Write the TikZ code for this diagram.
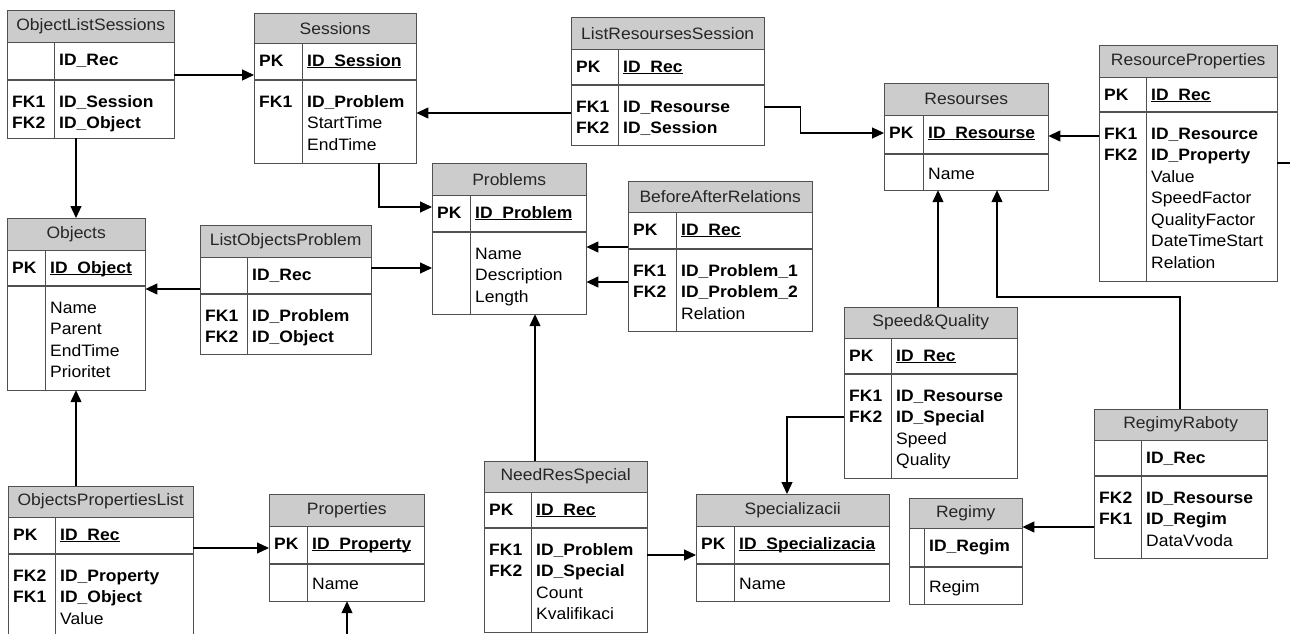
\documentclass[tikz,border=0pt]{standalone}
\usepackage{fontspec}
\setmainfont{Liberation Sans}[FakeStretch=1.06]
\usetikzlibrary{positioning,arrows.meta}
\definecolor{boxline}{HTML}{505050}
\definecolor{boxhead}{HTML}{CCCCCC}
\newcommand\pkf[1]{\underline{\smash{\textbf{#1}}}}

\begin{document}
\begin{tikzpicture}[x=1pt,y=-1pt,
  ttl/.style={draw=boxline,fill=boxhead,anchor=north west,inner sep=0pt,text=black!85,font=\fontsize{16.5}{21.5}\selectfont},
  sec/.style={draw=boxline,fill=white,inner sep=0pt},
  fld/.style={anchor=north west,inner sep=0pt,align=left,font=\fontsize{16.5}{21.5}\selectfont},
  conn/.style={line width=1.2pt,-{Triangle[length=12pt,width=11pt]}}]
\fill[white] (0,0) rectangle (1290,634);
\useasboundingbox (0,0) rectangle (1290,634);
\clip (0,0) rectangle (1290,634);

% ObjectListSessions
\node[ttl, minimum width=167pt, minimum height=32pt] (ols) at (7,10) {ObjectListSessions};
\node[sec, minimum width=167pt, minimum height=37pt, below=0pt of ols] (ols-pk) {};
\node[sec, minimum width=167pt, minimum height=58pt, below=0pt of ols-pk] (ols-at) {};
\draw[boxline] ([xshift=47pt]ols-pk.north west) -- ([xshift=47pt]ols-at.south west);
\node[fld] at ([shift={(52,7.5)}]ols-pk.north west) {\strut\textbf{ID\_Rec}};
\node[fld] at ([shift={(5,12)}]ols-at.north west) {\strut\textbf{FK1}\\\textbf{FK2}};
\node[fld] at ([shift={(52,12)}]ols-at.north west) {\strut\textbf{ID\_Session}\\\textbf{ID\_Object}};

% Sessions
\node[ttl, minimum width=162pt, minimum height=30pt] (ses) at (254,13) {Sessions};
\node[sec, minimum width=162pt, minimum height=36pt, below=0pt of ses] (ses-pk) {};
\node[sec, minimum width=162pt, minimum height=83pt, below=0pt of ses-pk] (ses-at) {};
\draw[boxline] ([xshift=48pt]ses-pk.north west) -- ([xshift=48pt]ses-at.south west);
\node[fld] at ([shift={(5,7.5)}]ses-pk.north west) {\strut\textbf{PK}};
\node[fld] at ([shift={(53,7.5)}]ses-pk.north west) {\strut\pkf{ID\_Session}};
\node[fld] at ([shift={(5,12)}]ses-at.north west) {\strut\textbf{FK1}};
\node[fld] at ([shift={(53,12)}]ses-at.north west) {\strut\textbf{ID\_Problem}\\StartTime\\EndTime};

% ListResoursesSession
\node[ttl, minimum width=193pt, minimum height=32pt] (lrs) at (571,17) {ListResoursesSession};
\node[sec, minimum width=193pt, minimum height=35pt, below=0pt of lrs] (lrs-pk) {};
\node[sec, minimum width=193pt, minimum height=60pt, below=0pt of lrs-pk] (lrs-at) {};
\draw[boxline] ([xshift=47pt]lrs-pk.north west) -- ([xshift=47pt]lrs-at.south west);
\node[fld] at ([shift={(5,7.5)}]lrs-pk.north west) {\strut\textbf{PK}};
\node[fld] at ([shift={(52,7.5)}]lrs-pk.north west) {\strut\pkf{ID\_Rec}};
\node[fld] at ([shift={(5,12)}]lrs-at.north west) {\strut\textbf{FK1}\\\textbf{FK2}};
\node[fld] at ([shift={(52,12)}]lrs-at.north west) {\strut\textbf{ID\_Resourse}\\\textbf{ID\_Session}};

% Resourses
\node[ttl, minimum width=164pt, minimum height=32pt] (res) at (884,83) {Resourses};
\node[sec, minimum width=164pt, minimum height=38pt, below=0pt of res] (res-pk) {};
\node[sec, minimum width=164pt, minimum height=36pt, below=0pt of res-pk] (res-at) {};
\draw[boxline] ([xshift=39pt]res-pk.north west) -- ([xshift=39pt]res-at.south west);
\node[fld] at ([shift={(5,7.5)}]res-pk.north west) {\strut\textbf{PK}};
\node[fld] at ([shift={(44,7.5)}]res-pk.north west) {\strut\pkf{ID\_Resourse}};
\node[fld] at ([shift={(44,10)}]res-at.north west) {\strut Name};

% ResourceProperties
\node[ttl, minimum width=178pt, minimum height=32pt] (rpr) at (1099,45) {ResourceProperties};
\node[sec, minimum width=178pt, minimum height=34pt, below=0pt of rpr] (rpr-pk) {};
\node[sec, minimum width=178pt, minimum height=169pt, below=0pt of rpr-pk] (rpr-at) {};
\draw[boxline] ([xshift=47pt]rpr-pk.north west) -- ([xshift=47pt]rpr-at.south west);
\node[fld] at ([shift={(5,7.5)}]rpr-pk.north west) {\strut\textbf{PK}};
\node[fld] at ([shift={(52,7.5)}]rpr-pk.north west) {\strut\pkf{ID\_Rec}};
\node[fld] at ([shift={(5,12)}]rpr-at.north west) {\strut\textbf{FK1}\\\textbf{FK2}};
\node[fld] at ([shift={(52,12)}]rpr-at.north west) {\strut\textbf{ID\_Resource}\\\textbf{ID\_Property}\\Value\\SpeedFactor\\QualityFactor\\DateTimeStart\\Relation};

% Objects
\node[ttl, minimum width=138pt, minimum height=32pt] (obj) at (7,218) {Objects};
\node[sec, minimum width=138pt, minimum height=35pt, below=0pt of obj] (obj-pk) {};
\node[sec, minimum width=138pt, minimum height=104pt, below=0pt of obj-pk] (obj-at) {};
\draw[boxline] ([xshift=38pt]obj-pk.north west) -- ([xshift=38pt]obj-at.south west);
\node[fld] at ([shift={(5,7.5)}]obj-pk.north west) {\strut\textbf{PK}};
\node[fld] at ([shift={(43,7.5)}]obj-pk.north west) {\strut\pkf{ID\_Object}};
\node[fld] at ([shift={(43,12)}]obj-at.north west) {\strut Name\\Parent\\EndTime\\Prioritet};

% ListObjectsProblem
\node[ttl, minimum width=171pt, minimum height=32pt] (lop) at (200,225) {ListObjectsProblem};
\node[sec, minimum width=171pt, minimum height=36pt, below=0pt of lop] (lop-pk) {};
\node[sec, minimum width=171pt, minimum height=60pt, below=0pt of lop-pk] (lop-at) {};
\draw[boxline] ([xshift=47pt]lop-pk.north west) -- ([xshift=47pt]lop-at.south west);
\node[fld] at ([shift={(52,7.5)}]lop-pk.north west) {\strut\textbf{ID\_Rec}};
\node[fld] at ([shift={(5,12)}]lop-at.north west) {\strut\textbf{FK1}\\\textbf{FK2}};
\node[fld] at ([shift={(52,12)}]lop-at.north west) {\strut\textbf{ID\_Problem}\\\textbf{ID\_Object}};

% Problems
\node[ttl, minimum width=154pt, minimum height=32pt] (prb) at (432,163) {Problems};
\node[sec, minimum width=154pt, minimum height=36pt, below=0pt of prb] (prb-pk) {};
\node[sec, minimum width=154pt, minimum height=82pt, below=0pt of prb-pk] (prb-at) {};
\draw[boxline] ([xshift=38pt]prb-pk.north west) -- ([xshift=38pt]prb-at.south west);
\node[fld] at ([shift={(5,7.5)}]prb-pk.north west) {\strut\textbf{PK}};
\node[fld] at ([shift={(43,7.5)}]prb-pk.north west) {\strut\pkf{ID\_Problem}};
\node[fld] at ([shift={(43,12)}]prb-at.north west) {\strut Name\\Description\\Length};

% BeforeAfterRelations
\node[ttl, minimum width=184pt, minimum height=31pt] (bar) at (628,181) {BeforeAfterRelations};
\node[sec, minimum width=184pt, minimum height=36pt, below=0pt of bar] (bar-pk) {};
\node[sec, minimum width=184pt, minimum height=82pt, below=0pt of bar-pk] (bar-at) {};
\draw[boxline] ([xshift=48pt]bar-pk.north west) -- ([xshift=48pt]bar-at.south west);
\node[fld] at ([shift={(5,7.5)}]bar-pk.north west) {\strut\textbf{PK}};
\node[fld] at ([shift={(53,7.5)}]bar-pk.north west) {\strut\pkf{ID\_Rec}};
\node[fld] at ([shift={(5,12)}]bar-at.north west) {\strut\textbf{FK1}\\\textbf{FK2}};
\node[fld] at ([shift={(53,12)}]bar-at.north west) {\strut\textbf{ID\_Problem\_1}\\\textbf{ID\_Problem\_2}\\Relation};

% Speed&Quality
\node[ttl, minimum width=173pt, minimum height=31pt] (sq) at (844,307) {Speed\&Quality};
\node[sec, minimum width=173pt, minimum height=35pt, below=0pt of sq] (sq-pk) {};
\node[sec, minimum width=173pt, minimum height=104pt, below=0pt of sq-pk] (sq-at) {};
\draw[boxline] ([xshift=47pt]sq-pk.north west) -- ([xshift=47pt]sq-at.south west);
\node[fld] at ([shift={(5,7.5)}]sq-pk.north west) {\strut\textbf{PK}};
\node[fld] at ([shift={(52,7.5)}]sq-pk.north west) {\strut\pkf{ID\_Rec}};
\node[fld] at ([shift={(5,12)}]sq-at.north west) {\strut\textbf{FK1}\\\textbf{FK2}};
\node[fld] at ([shift={(52,12)}]sq-at.north west) {\strut\textbf{ID\_Resourse}\\\textbf{ID\_Special}\\Speed\\Quality};

% RegimyRaboty
\node[ttl, minimum width=173pt, minimum height=31pt] (rr) at (1094,409) {RegimyRaboty};
\node[sec, minimum width=173pt, minimum height=35pt, below=0pt of rr] (rr-pk) {};
\node[sec, minimum width=173pt, minimum height=82pt, below=0pt of rr-pk] (rr-at) {};
\draw[boxline] ([xshift=47pt]rr-pk.north west) -- ([xshift=47pt]rr-at.south west);
\node[fld] at ([shift={(52,7.5)}]rr-pk.north west) {\strut\textbf{ID\_Rec}};
\node[fld] at ([shift={(5,12)}]rr-at.north west) {\strut\textbf{FK2}\\\textbf{FK1}};
\node[fld] at ([shift={(52,12)}]rr-at.north west) {\strut\textbf{ID\_Resourse}\\\textbf{ID\_Regim}\\DataVvoda};

% NeedResSpecial
\node[ttl, minimum width=163pt, minimum height=31pt] (nrs) at (484,461) {NeedResSpecial};
\node[sec, minimum width=163pt, minimum height=35pt, below=0pt of nrs] (nrs-pk) {};
\node[sec, minimum width=163pt, minimum height=104pt, below=0pt of nrs-pk] (nrs-at) {};
\draw[boxline] ([xshift=47pt]nrs-pk.north west) -- ([xshift=47pt]nrs-at.south west);
\node[fld] at ([shift={(5,7.5)}]nrs-pk.north west) {\strut\textbf{PK}};
\node[fld] at ([shift={(52,7.5)}]nrs-pk.north west) {\strut\pkf{ID\_Rec}};
\node[fld] at ([shift={(5,12)}]nrs-at.north west) {\strut\textbf{FK1}\\\textbf{FK2}};
\node[fld] at ([shift={(52,12)}]nrs-at.north west) {\strut\textbf{ID\_Problem}\\\textbf{ID\_Special}\\Count\\Kvalifikaci};

% Specializacii
\node[ttl, minimum width=193pt, minimum height=32pt] (spc) at (696,494) {Specializacii};
\node[sec, minimum width=193pt, minimum height=37pt, below=0pt of spc] (spc-pk) {};
\node[sec, minimum width=193pt, minimum height=37pt, below=0pt of spc-pk] (spc-at) {};
\draw[boxline] ([xshift=38pt]spc-pk.north west) -- ([xshift=38pt]spc-at.south west);
\node[fld] at ([shift={(5,7.5)}]spc-pk.north west) {\strut\textbf{PK}};
\node[fld] at ([shift={(43,7.5)}]spc-pk.north west) {\strut\pkf{ID\_Specializacia}};
\node[fld] at ([shift={(43,10)}]spc-at.north west) {\strut Name};

% Regimy
\node[ttl, minimum width=113pt, minimum height=30pt] (rgm) at (909,498) {Regimy};
\node[sec, minimum width=113pt, minimum height=38pt, below=0pt of rgm] (rgm-pk) {};
\node[sec, minimum width=113pt, minimum height=37pt, below=0pt of rgm-pk] (rgm-at) {};
\draw[boxline] ([xshift=15pt]rgm-pk.north west) -- ([xshift=15pt]rgm-at.south west);
\node[fld] at ([shift={(20,7.5)}]rgm-pk.north west) {\strut\textbf{ID\_Regim}};
\node[fld] at ([shift={(20,10)}]rgm-at.north west) {\strut Regim};

% ObjectsPropertiesList
\node[ttl, minimum width=185pt, minimum height=31pt] (opl) at (8,486) {ObjectsPropertiesList};
\node[sec, minimum width=185pt, minimum height=36pt, below=0pt of opl] (opl-pk) {};
\node[sec, minimum width=185pt, minimum height=120pt, below=0pt of opl-pk] (opl-at) {};
\draw[boxline] ([xshift=47pt]opl-pk.north west) -- ([xshift=47pt]opl-at.south west);
\node[fld] at ([shift={(5,7.5)}]opl-pk.north west) {\strut\textbf{PK}};
\node[fld] at ([shift={(52,7.5)}]opl-pk.north west) {\strut\pkf{ID\_Rec}};
\node[fld] at ([shift={(5,12)}]opl-at.north west) {\strut\textbf{FK2}\\\textbf{FK1}};
\node[fld] at ([shift={(52,12)}]opl-at.north west) {\strut\textbf{ID\_Property}\\\textbf{ID\_Object}\\Value};

% Properties
\node[ttl, minimum width=155pt, minimum height=32pt] (prp) at (269,494) {Properties};
\node[sec, minimum width=155pt, minimum height=37pt, below=0pt of prp] (prp-pk) {};
\node[sec, minimum width=155pt, minimum height=37pt, below=0pt of prp-pk] (prp-at) {};
\draw[boxline] ([xshift=38pt]prp-pk.north west) -- ([xshift=38pt]prp-at.south west);
\node[fld] at ([shift={(5,7.5)}]prp-pk.north west) {\strut\textbf{PK}};
\node[fld] at ([shift={(43,7.5)}]prp-pk.north west) {\strut\pkf{ID\_Property}};
\node[fld] at ([shift={(43,10)}]prp-at.north west) {\strut Name};

% links
\coordinate (rpr-out) at (1290,163);
\coordinate (prp-in) at (347,634);
\draw[conn] (ols-pk.east |- 0,75) -- (ses-pk.west |- 0,75);
\draw[conn] (lrs-at.west |- 0,113) -- (ses-at.east |- 0,113);
\draw[conn] (lrs-at.east |- 0,107) -- ++(36,0) |- (res-pk.west |- 0,133);
\draw[conn] (rpr-at.west |- 0,136) -- (res-pk.east |- 0,136);
\draw[line width=1.2pt] (rpr-at.east |- rpr-out) -- (rpr-out);
\draw[conn] (ols-at.south -| 76,0) -- (obj.north -| 76,0);
\draw[conn] (ses-at.south -| 379,0) |- (prb-pk.west |- 0,207);
\draw[conn] (lop-pk.east |- 0,268) -- (prb-at.west |- 0,268);
\draw[conn] (lop-pk.west |- 0,289) -- (obj-at.east |- 0,289);
\draw[conn] (bar-pk.west |- 0,247) -- (prb-at.east |- 0,247);
\draw[conn] (bar-at.west |- 0,282) -- (prb-at.east |- 0,282);
\draw[conn] (nrs.north -| 535,0) -- (prb-at.south -| 535,0);
\draw[conn] (opl.north -| 76,0) -- (obj-at.south -| 76,0);
\draw[conn] (opl-pk.east |- 0,548) -- (prp-pk.west |- 0,548);
\draw[conn] (prp-in) -- (prp-at.south -| prp-in);
\draw[conn] (nrs-at.east |- 0,555) -- (spc-pk.west |- 0,555);
\draw[conn] (sq-at.west |- 0,417) -| (spc.north -| 787,0);
\draw[conn] (sq.north -| 938,0) -- (res-at.south -| 938,0);
\draw[conn] (rr.north -| 1180,0) -- ++(0,-112) -| (res-at.south -| 997,0);
\draw[conn] (rr-at.west |- 0,527) -- (rgm-pk.east |- 0,527);
\end{tikzpicture}
\end{document}
